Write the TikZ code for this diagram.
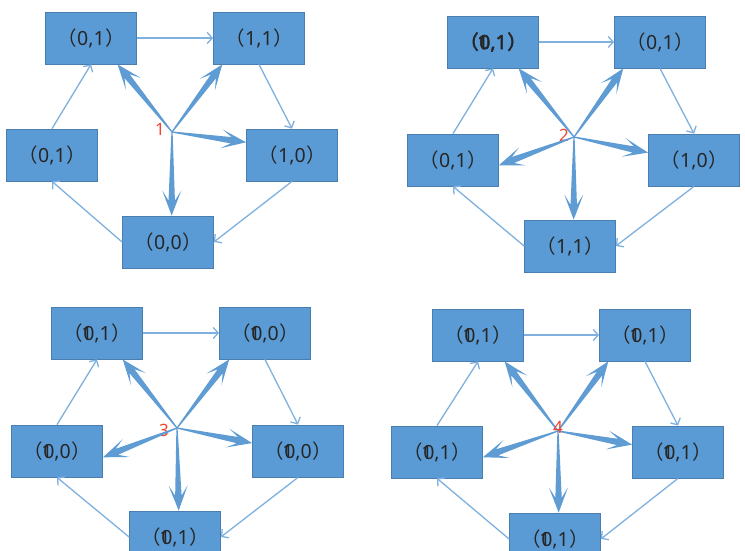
\documentclass[tikz,border=0pt]{standalone}
\usepackage{fontspec}
\newfontfamily\cjk{Noto Sans CJK SC}
\newfontfamily\dig{Noto Sans}
\newfontfamily\cjkb[FakeBold=2.5]{Noto Sans CJK SC}
\newfontfamily\digb[FakeBold=2.5]{Noto Sans}
\usetikzlibrary{arrows.meta,calc}
\definecolor{boxblue}{HTML}{5B9BD5}
\definecolor{boxedge}{HTML}{4A7EB0}
\definecolor{thinblue}{HTML}{7FB1DE}
\definecolor{thickblue}{HTML}{5E9CD3}
\definecolor{numred}{HTML}{F2452E}
\tikzset{
  stbox/.style={draw=boxedge, fill=boxblue, line width=0.8pt, minimum width=91pt, minimum height=52pt,
    inner sep=0pt, text=black!85, font=\fontsize{19.5}{19.5}\selectfont},
  thinarr/.style={draw=thinblue, line width=1.3pt, -{Straight Barb[length=5pt,width=11pt,line width=1.3pt]}},
  numlab/.style={text=numred, font=\dig\fontsize{17}{17}\selectfont, inner sep=0pt}
}
\newcommand{\ov}[2]{\makebox[0pt][l]{\hspace{-0.1em}#1}#2}
\newcommand{\lbl}[1]{\raisebox{-2pt}{{\cjk （}\kern0.5pt{\dig #1}\kern0.5pt{\cjk ）}}}
\newcommand{\lblb}[1]{\raisebox{-2pt}{{\cjkb （}\kern0.5pt{\digb #1}\kern0.5pt{\cjkb ）}}}
\newcommand{\wedgearr}[2]{%
  \coordinate (hI) at ($(#2)!15pt!(#1)$);
  \coordinate (hB) at ($(#2)!25pt!(#1)$);
  \fill[thickblue] ($(#1)!0.6pt!90:(#2)$) -- ($(hI)!3.2pt!-90:(#1)$) -- ($(hB)!9.5pt!-90:(#1)$) -- (#2)
    -- ($(hB)!9.5pt!90:(#1)$) -- ($(hI)!3.2pt!90:(#1)$) -- ($(#1)!0.6pt!-90:(#2)$) -- cycle;}
\begin{document}
\begin{tikzpicture}[x=1pt,y=-1pt]
\useasboundingbox (0,0) rectangle (745,551);
\clip (0,0) rectangle (745,551);
\fill[white] (0,0) rectangle (745,551);
% ---------- panel 1 ----------
\node[stbox] (p1a) at (91,38) {\lbl{0,1}};
\node[stbox] (p1b) at (259,38) {\lbl{1,1}};
\node[stbox] (p1c) at (52,155) {\lbl{0,1}};
\node[stbox] (p1d) at (292,155) {\lbl{1,0}};
\node[stbox] (p1e) at (168,242) {\lbl{0,0}};
\coordinate (c1) at (172,132);
\node[numlab] (n1) at (160,129) {1};
\draw[thinarr] (p1a.east) -- (p1b.west);
\draw[thinarr] (p1b.south) -- (p1d.north);
\draw[thinarr] (p1d.south) -- (p1e.east);
\draw[thinarr] (p1e.west) -- (p1c.south);
\draw[thinarr] (p1c.north) -- (p1a.south);
\coordinate (t1a) at ($(p1a.south west)!0.79!(p1a.south east)$);
\coordinate (t1b) at ($(p1b.south west)!0.10!(p1b.south east)$);
\coordinate (t1d) at ($(p1d.north west)!0.26!(p1d.south west)$);
\coordinate (t1e) at ($(p1e.north west)!0.54!(p1e.north east)$);
\wedgearr{c1}{t1a}\wedgearr{c1}{t1b}\wedgearr{c1}{t1d}\wedgearr{c1}{t1e}
% ---------- panel 2 ----------
\node[stbox] (p2a) at (493,42) {\lblb{\ov{1}{0},1}};
\node[stbox] (p2b) at (660,42) {\lbl{0,1}};
\node[stbox] (p2c) at (453,160) {\lbl{0,1}};
\node[stbox] (p2d) at (694,160) {\lbl{1,0}};
\node[stbox] (p2e) at (570,246) {\lbl{1,1}};
\coordinate (c2) at (574,137);
\node[numlab] (n2) at (564,135) {2};
\draw[thinarr] (p2a.east) -- (p2b.west);
\draw[thinarr] (p2b.south) -- (p2d.north);
\draw[thinarr] (p2d.south) -- (p2e.east);
\draw[thinarr] (p2e.west) -- (p2c.south);
\draw[thinarr] (p2c.north) -- (p2a.south);
\coordinate (t2a) at ($(p2a.south west)!0.78!(p2a.south east)$);
\coordinate (t2b) at ($(p2b.south west)!0.10!(p2b.south east)$);
\coordinate (t2c) at ($(p2c.north east)!0.60!(p2c.south east)$);
\coordinate (t2d) at ($(p2d.north west)!0.36!(p2d.south west)$);
\coordinate (t2e) at ($(p2e.north west)!0.54!(p2e.north east)$);
\wedgearr{c2}{t2a}\wedgearr{c2}{t2b}\wedgearr{c2}{t2c}\wedgearr{c2}{t2d}\wedgearr{c2}{t2e}
% ---------- panel 3 ----------
\node[stbox] (p3a) at (97,333) {\lbl{\ov{1}{0},1}};
\node[stbox] (p3b) at (265,333) {\lbl{\ov{1}{0},0}};
\node[stbox] (p3c) at (57,451) {\lbl{\ov{1}{0},0}};
\node[stbox] (p3d) at (298,451) {\lbl{\ov{1}{0},0}};
\node[stbox] (p3e) at (175,537) {\lbl{\ov{1}{0},1}};
\coordinate (c3) at (177,428);
\node[numlab] (n3) at (164,430) {3};
\draw[thinarr] (p3a.east) -- (p3b.west);
\draw[thinarr] (p3b.south) -- (p3d.north);
\draw[thinarr] (p3d.south) -- (p3e.east);
\draw[thinarr] (p3e.west) -- (p3c.south);
\draw[thinarr] (p3c.north) -- (p3a.south);
\coordinate (t3a) at ($(p3a.south west)!0.78!(p3a.south east)$);
\coordinate (t3b) at ($(p3b.south west)!0.11!(p3b.south east)$);
\coordinate (t3c) at ($(p3c.north east)!0.62!(p3c.south east)$);
\coordinate (t3d) at ($(p3d.north west)!0.35!(p3d.south west)$);
\coordinate (t3e) at ($(p3e.north west)!0.54!(p3e.north east)$);
\wedgearr{c3}{t3a}\wedgearr{c3}{t3b}\wedgearr{c3}{t3c}\wedgearr{c3}{t3d}\wedgearr{c3}{t3e}
% ---------- panel 4 ----------
\node[stbox] (p4a) at (478,335) {\lbl{\ov{1}{0},1}};
\node[stbox] (p4b) at (645,335) {\lbl{\ov{1}{0},1}};
\node[stbox] (p4c) at (437,452) {\lbl{\ov{1}{0},1}};
\node[stbox] (p4d) at (678,452) {\lbl{\ov{1}{0},1}};
\node[stbox] (p4e) at (555,539) {\lbl{\ov{1}{0},1}};
\coordinate (c4) at (558,431);
\draw[thinarr] (p4a.east) -- (p4b.west);
\draw[thinarr] (p4b.south) -- (p4d.north);
\draw[thinarr] (p4d.south) -- (p4e.east);
\draw[thinarr] (p4e.west) -- (p4c.south);
\draw[thinarr] (p4c.north) -- (p4a.south);
\coordinate (t4a) at ($(p4a.south west)!0.79!(p4a.south east)$);
\coordinate (t4b) at ($(p4b.south west)!0.10!(p4b.south east)$);
\coordinate (t4c) at ($(p4c.north east)!0.60!(p4c.south east)$);
\coordinate (t4d) at ($(p4d.north west)!0.36!(p4d.south west)$);
\coordinate (t4e) at ($(p4e.north west)!0.54!(p4e.north east)$);
\wedgearr{c4}{t4a}\wedgearr{c4}{t4b}\wedgearr{c4}{t4c}\wedgearr{c4}{t4d}\wedgearr{c4}{t4e}
\node[numlab] (n4) at (558,427) {4};
\end{tikzpicture}
\end{document}
